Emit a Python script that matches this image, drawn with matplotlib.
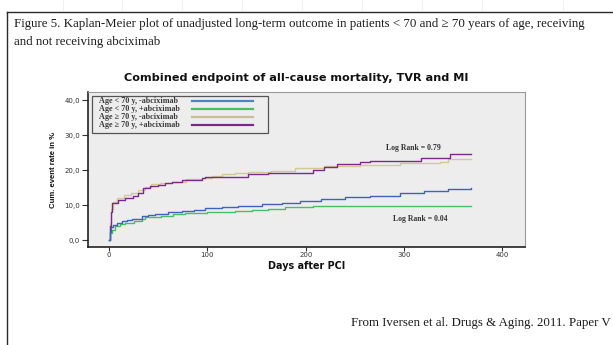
import matplotlib
matplotlib.use("Agg")
import matplotlib.pyplot as plt
from matplotlib.lines import Line2D
from matplotlib.patches import Rectangle
from matplotlib import font_manager

# ---------------- data ----------------
days_lt70_minus = [0, 1, 2, 4, 8, 13, 18, 23, 33, 40, 47, 60, 74, 86, 98, 115, 131, 155, 176, 194, 215, 240, 265, 296, 320, 345, 368]
vals_lt70_minus = [0, 2.5, 3.9, 4.3, 4.9, 5.4, 5.7, 6.0, 7.0, 7.3, 7.6, 8.0, 8.4, 8.8, 9.2, 9.6, 9.9, 10.4, 10.8, 11.3, 11.8, 12.3, 12.8, 13.5, 14.0, 14.6, 15.1]

days_lt70_plus = [0, 1, 3, 6, 11, 16, 25, 33, 36, 45, 53, 65, 77, 100, 128, 145, 162, 179, 207, 368]
vals_lt70_plus = [0, 2.0, 3.0, 4.1, 4.6, 5.1, 5.6, 6.0, 6.6, 6.8, 7.0, 7.4, 7.8, 8.2, 8.5, 8.8, 9.0, 9.4, 9.7, 9.7]

days_ge70_minus = [0, 1, 2, 4, 8, 15, 22, 29, 36, 43, 52, 64, 78, 94, 105, 115, 128, 141, 165, 189, 219, 255, 296, 337, 345, 368]
vals_ge70_minus = [0, 5.0, 9.0, 11.0, 12.1, 13.0, 13.6, 14.4, 15.2, 16.0, 16.4, 16.8, 17.4, 17.9, 18.4, 18.9, 19.2, 19.5, 19.9, 20.6, 21.2, 21.6, 22.0, 22.5, 23.3, 23.3]

days_ge70_plus = [0, 1, 2, 3, 9, 16, 24, 29, 34, 42, 50, 57, 64, 74, 94, 98, 141, 162, 194, 207, 219, 232, 255, 265, 317, 347, 368]
vals_ge70_plus = [0, 4.0, 8.0, 10.6, 11.6, 12.1, 12.7, 13.5, 14.9, 15.4, 15.9, 16.3, 16.8, 17.3, 17.8, 18.2, 18.9, 19.2, 19.2, 20.1, 21.1, 21.8, 22.3, 22.8, 23.5, 24.6, 24.6]

series_labels = ["Age < 70 y, -abciximab", "Age < 70 y, +abciximab",
                 "Age \u2265 70 y, -abciximab", "Age \u2265 70 y, +abciximab"]
series_colors = ["#4160c0", "#46c062", "#d4c990", "#7a2a8a"]
legend_colors = ["#4a86c4", "#46c062", "#c8bf95", "#7a2a8a"]

y_ticks = [0, 10, 20, 30, 40]
y_ticklabels = ["0,0", "10,0", "20,0", "30,0", "40,0"]
x_ticks = [0, 100, 200, 300, 400]
x_ticklabels = ["0", "100", "200", "300", "400"]

caption_line1 = "Figure 5. Kaplan-Meier plot of unadjusted long-term outcome in patients < 70 and \u2265 70 years of age, receiving"
caption_line2 = "and not receiving abciximab"
footer = "From Iversen et al. Drugs & Aging. 2011. Paper V"
chart_title = "Combined endpoint of all-cause mortality, TVR and MI"
logrank_old = "Log Rank = 0.79"
logrank_young = "Log Rank = 0.04"

# ---------------- figure ----------------
W, H = 613, 345
fig = plt.figure(figsize=(W / 100, H / 100), dpi=100)
fig.patch.set_facecolor("white")

def fx(px):
    return px / W

def fy(py):
    return 1 - py / H

installed = {f.name for f in font_manager.fontManager.ttflist}
if "Liberation Sans Narrow" in installed:
    ylab_family, ylab_size = ["Liberation Sans Narrow", "DejaVu Sans"], 6.6
elif "Liberation Sans" in installed:
    ylab_family, ylab_size = ["Liberation Sans", "DejaVu Sans"], 5.6
else:
    ylab_family, ylab_size = ["DejaVu Sans"], 5.0
serif = ["Liberation Serif", "DejaVu Serif"]

# outer document frame
fig.add_artist(Line2D([fx(7), fx(7)], [fy(12), fy(345)], color="#2a2a2a", lw=1.0))
fig.add_artist(Line2D([fx(7), fx(613)], [fy(12), fy(12)], color="#2a2a2a", lw=1.0))
for px in [63, 122, 182, 242, 302, 362, 422, 482, 563]:
    fig.add_artist(Line2D([fx(px), fx(px)], [fy(0), fy(10)], color="#efefef", lw=0.6))

fig.text(fx(14), fy(24), caption_line1, family=serif, fontsize=9.3, color="#1c1c1c", va="center", ha="left")
fig.text(fx(14), fy(42), caption_line2, family=serif, fontsize=9.3, color="#1c1c1c", va="center", ha="left")
fig.text(fx(611), fy(323), footer, family=serif, fontsize=9.3, color="#1c1c1c", va="center", ha="right")

# axes
ax_l, ax_r, ax_t, ax_b = 87.5, 525, 92, 247
ax = fig.add_axes([fx(ax_l), fy(ax_b), (ax_r - ax_l) / W, (ax_b - ax_t) / H])
ax.set_facecolor("#ededed")
ax.set_xlim(-22, 423)
ax.set_ylim(-1.9, 42.4)

def axx(px):
    return (px - ax_l) / (ax_r - ax_l)

def axy(py):
    return (ax_b - py) / (ax_b - ax_t)

data = [(days_lt70_minus, vals_lt70_minus), (days_lt70_plus, vals_lt70_plus),
        (days_ge70_minus, vals_ge70_minus), (days_ge70_plus, vals_ge70_plus)]
for i in [2, 3, 1, 0]:
    d, v = data[i]
    ax.plot(d, v, drawstyle="steps-post", color=series_colors[i], lw=1.0, label=series_labels[i])

for side in ["left", "bottom"]:
    ax.spines[side].set_color("#222222")
    ax.spines[side].set_linewidth(1.2)
for side in ["top", "right"]:
    ax.spines[side].set_color("#9a9a9a")
    ax.spines[side].set_linewidth(0.8)

ax.set_yticks(y_ticks)
ax.set_yticklabels(y_ticklabels)
ax.set_xticks(x_ticks)
ax.set_xticklabels(x_ticklabels)
ax.tick_params(axis="y", direction="out", length=4.3, width=0.8, color="#333333",
               labelsize=5.0, labelcolor="#333333", pad=1.0)
ax.tick_params(axis="x", direction="out", length=3.0, width=0.8, color="#333333",
               labelsize=5.0, labelcolor="#333333", pad=0.5)

ax.set_ylabel("Cum. event rate in %", family=ylab_family, fontsize=ylab_size, fontweight="bold",
              color="#111111")
ax.yaxis.set_label_coords(axx(57), 0.5)
ax.set_xlabel("Days after PCI", fontsize=6.9, fontweight="bold", labelpad=2.5, color="#111111")
fig.text(fx(296), fy(78), chart_title, fontsize=8.1, fontweight="bold", color="#111111",
         ha="center", va="center")

ax.text(309, 26.4, logrank_old, family=serif, fontsize=5.6, fontweight="bold", color="#333333",
        ha="center", va="center")
ax.text(316, 6.1, logrank_young, family=serif, fontsize=5.6, fontweight="bold", color="#333333",
        ha="center", va="center")

# legend box drawn from the series lists
ax.add_patch(Rectangle((axx(92), axy(133)), axx(268) - axx(92), axy(96) - axy(133),
                       transform=ax.transAxes, facecolor="#ededed", edgecolor="#555555",
                       lw=0.9, zorder=5))
row_y = [101, 109, 117, 125]
for i in range(4):
    ax.text(axx(99), axy(row_y[i]), series_labels[i], transform=ax.transAxes, family=serif,
            fontsize=5.9, fontweight="bold", color="#3a3a3a", ha="left", va="center", zorder=6)
    ax.add_line(Line2D([axx(192), axx(253)], [axy(row_y[i]), axy(row_y[i])], transform=ax.transAxes,
                       color=legend_colors[i], lw=1.6, zorder=6))

fig.savefig("out.png", dpi=100, facecolor="white")
